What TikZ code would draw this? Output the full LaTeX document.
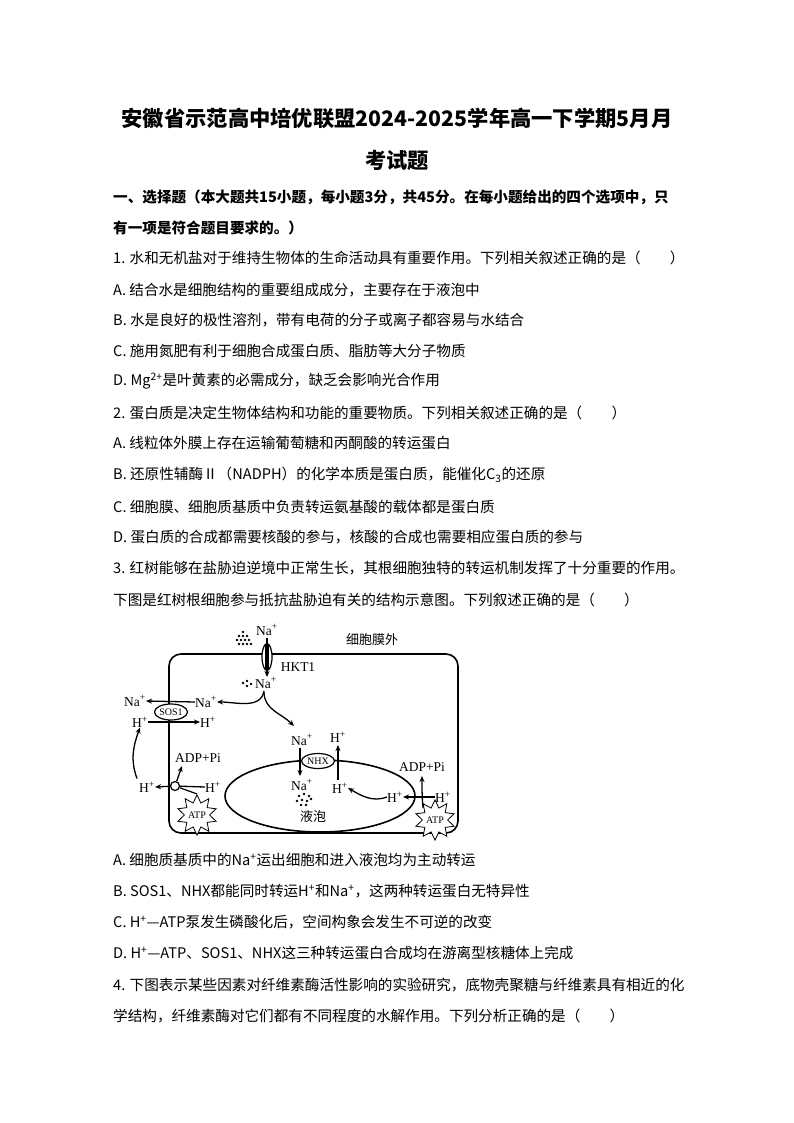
\documentclass[tikz,border=0pt]{standalone}
\usepackage{fontspec}
\setmainfont{Liberation Serif}
\newfontfamily\cj{Noto Sans CJK SC}
\usetikzlibrary{shapes.geometric,arrows.meta}
\begin{document}
\begin{tikzpicture}[x=1pt,y=-1pt,
  ln/.style={anchor=west,inner sep=0pt,font=\cj\fontsize{14.6}{16}\selectfont},
  lab/.style={inner sep=0pt,font=\fontsize{13.5}{15}\selectfont},
  ar/.style={-{Stealth[length=6pt,width=5pt]},line width=1.3pt},
  mem/.style={line width=1.6pt},
  burst/.style={star,star points=10,star point ratio=1.6,draw,line width=0.8pt,minimum width=34pt,minimum height=20pt,inner sep=0pt,font=\fontsize{10}{12}\selectfont,fill=white}]
\useasboundingbox (0,0) rectangle (794,1123);
\node[inner sep=0pt,font=\cj\bfseries\fontsize{21.3}{24}\selectfont] (t1) at (397,118) {安徽省示范高中培优联盟2024-2025学年高一下学期5月月};
\node[inner sep=0pt,font=\cj\bfseries\fontsize{21.3}{24}\selectfont] (t2) at (397,160) {考试题};
\node[ln,font=\cj\bfseries\fontsize{14.6}{16}\selectfont] (l1) at (113,197) {一、选择题（本大题共15小题，每小题3分，共45分。在每小题给出的四个选项中，只};
\node[ln,font=\cj\bfseries\fontsize{14.6}{16}\selectfont] (l2) at (113,228) {有一项是符合题目要求的。）};
\node[ln] (q1) at (113,258) {1. 水和无机盐对于维持生物体的生命活动具有重要作用。下列相关叙述正确的是（　　）};
\node[ln] (q1a) at (113,290) {A. 结合水是细胞结构的重要组成成分，主要存在于液泡中};
\node[ln] (q1b) at (113,320) {B. 水是良好的极性溶剂，带有电荷的分子或离子都容易与水结合};
\node[ln] (q1c) at (113,351) {C. 施用氮肥有利于细胞合成蛋白质、脂肪等大分子物质};
\node[ln] (q1d) at (113,381) {D. Mg\textsuperscript{2+}是叶黄素的必需成分，缺乏会影响光合作用};
\node[ln] (q2) at (113,413) {2. 蛋白质是决定生物体结构和功能的重要物质。下列相关叙述正确的是（　　）};
\node[ln] (q2a) at (113,443) {A. 线粒体外膜上存在运输葡萄糖和丙酮酸的转运蛋白};
\node[ln] (q2b) at (113,475) {B. 还原性辅酶Ⅱ（NADPH）的化学本质是蛋白质，能催化C\textsubscript{3}的还原};
\node[ln] (q2c) at (113,507) {C. 细胞膜、细胞质基质中负责转运氨基酸的载体都是蛋白质};
\node[ln] (q2d) at (113,537) {D. 蛋白质的合成都需要核酸的参与，核酸的合成也需要相应蛋白质的参与};
\node[ln] (q3) at (113,568) {3. 红树能够在盐胁迫逆境中正常生长，其根细胞独特的转运机制发挥了十分重要的作用。};
\node[ln] (q3b) at (113,600) {下图是红树根细胞参与抵抗盐胁迫有关的结构示意图。下列叙述正确的是（　　）};
\node[ln] (q3A) at (113,860) {A. 细胞质基质中的Na\textsuperscript{+}运出细胞和进入液泡均为主动转运};
\node[ln] (q3B) at (113,891) {B. SOS1、NHX都能同时转运H\textsuperscript{+}和Na\textsuperscript{+}，这两种转运蛋白无特异性};
\node[ln] (q3C) at (113,922) {C. H\textsuperscript{+}—ATP泵发生磷酸化后，空间构象会发生不可逆的改变};
\node[ln] (q3D) at (113,953) {D. H\textsuperscript{+}—ATP、SOS1、NHX这三种转运蛋白合成均在游离型核糖体上完成};
\node[ln] (q4) at (113,985) {4. 下图表示某些因素对纤维素酶活性影响的实验研究，底物壳聚糖与纤维素具有相近的化};
\node[ln] (q4b) at (113,1016) {学结构，纤维素酶对它们都有不同程度的水解作用。下列分析正确的是（　　）};
% diagram
\draw[mem,rounded corners=12pt] (169,654) rectangle (458,833);
\node[lab,font=\cj\fontsize{13}{14}\selectfont] (out) at (372,640) {细胞膜外};
\draw[mem,fill=white] (320,796) ellipse (95 and 36);
\node[lab,font=\cj\fontsize{13}{14}\selectfont] (vac) at (313,817) {液泡};
% HKT1
\node[draw,ellipse,line width=1.2pt,fill=white,minimum width=10pt,minimum height=27pt,inner sep=0pt] (hkt) at (267,657) {};
\fill (265,644) rectangle (269,670);
\node[lab] (na1) at (267,630) {Na\textsuperscript{+}};
\node[lab] (hl) at (298,667) {HKT1};
\node[lab] (na2) at (266,683) {Na\textsuperscript{+}};
\draw[ar] (na1.south) ++(0,2) -- (267,677);
\foreach \p in {(239,636),(243,636),(247,636),(237,640),(241,640),(245,640),(249,640),(239,644),(243,644),(247,644),(251,644),(243,632)} \fill \p circle (1.3pt);
\foreach \p in {(243,683),(247,681),(247,686),(251,684)} \fill \p circle (1.3pt);
\node[lab] (na3) at (206,702) {Na\textsuperscript{+}};
\draw[ar] (264,691) to[out=260,in=0] (na3.east);
\coordinate (nhxin) at (294,726);
\draw[ar] (264,692) to[out=270,in=135] (nhxin);
% SOS1
\node[lab] (na4) at (135,701) {Na\textsuperscript{+}};
\draw[ar] (na3.west) -- (na4.east);
\node[draw,ellipse,line width=1.2pt,fill=white,minimum width=33pt,minimum height=16pt,inner sep=0pt,font=\fontsize{10}{12}\selectfont] (sos) at (171,712) {SOS1};
\node[lab] (h1) at (140,722) {H\textsuperscript{+}};
\node[lab] (h2) at (208,722) {H\textsuperscript{+}};
\draw[ar] (h1.east) -- (h2.west);
% left pump
\node[draw,circle,line width=1.2pt,fill=white,minimum size=9pt,inner sep=0pt] (pump) at (175,786) {};
\node[lab] (h3) at (147,787) {H\textsuperscript{+}};
\node[lab] (h4) at (213,787) {H\textsuperscript{+}};
\node[lab] (adp1) at (198,758) {ADP+Pi};
\node[burst] (atp1) at (197,815) {ATP};
\draw[line width=1.3pt] (h4.west) -- (pump);
\draw[ar] (pump) -- (h3.east);
\draw[ar] (pump) -- (182,766);
\draw[line width=1.2pt] (atp1.north) -- (pump);
\draw[ar] (h3.north) ++(-10,-3) to[out=110,in=250] (h1.south);
% NHX
\node[draw,ellipse,line width=1.2pt,fill=white,minimum width=33pt,minimum height=15pt,inner sep=0pt,font=\fontsize{10}{12}\selectfont] (nhx) at (318,761) {NHX};
\node[lab] (na5) at (302,740) {Na\textsuperscript{+}};
\node[lab] (na6) at (302,785) {Na\textsuperscript{+}};
\draw[ar] (300,748) -- (300,776);
\foreach \p in {(299,796),(304,794),(309,796),(297,801),(302,800),(307,801),(311,799),(301,805),(306,805)} \fill \p circle (1.3pt);
\node[lab] (h5) at (338,737) {H\textsuperscript{+}};
\node[lab] (h6) at (340,788) {H\textsuperscript{+}};
\draw[ar] (338,780) -- (338,745);
% right pump
\node[lab] (h7) at (395,797) {H\textsuperscript{+}};
\node[lab] (h8) at (443,797) {H\textsuperscript{+}};
\draw[ar] (h8.west) -- (h7.east);
\draw[ar] (h7.west) to[out=200,in=330] (h6.east);
\node[lab] (adp2) at (422,767) {ADP+Pi};
\node[burst] (atp2) at (435,820) {ATP};
\draw[ar] (423,808) to[out=95,in=270] (422,776);
\end{tikzpicture}
\end{document}
